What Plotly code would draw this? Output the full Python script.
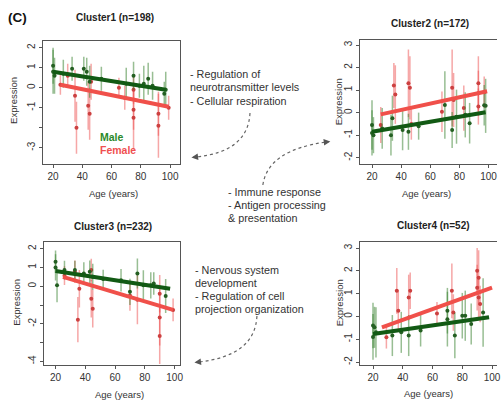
import plotly.graph_objects as go

W, H = 501, 405

# ---------------- data ----------------
c1_male_age = [20, 20, 21, 27, 33, 41, 43, 45, 53, 70, 75, 79, 82, 85, 88, 96, 97]
c1_male_mean = [1.1, 0.8, 0.6, 0.7, 0.95, 0.95, 0.8, 0.3, 0.45, 0.2, 0.6, 0.1, 0.2, 0.45, 0.1, -0.3, -0.1]
c1_male_sd = [0.9, 1.1, 0.9, 0.7, 0.6, 0.6, 0.7, 0.8, 0.6, 0.8, 0.7, 0.6, 0.9, 0.8, 0.7, 0.6, 0.9]
c1_female_age = [25, 30, 35, 36, 44, 45, 46, 65, 69, 75, 75, 75, 92, 92, 99]
c1_female_mean = [0.15, 0.6, -0.4, -2.0, -0.9, -1.3, 0.3, 0.0, -0.5, -1.1, -1.5, -0.1, -1.3, -1.9, -1.0]
c1_female_sd = [0.5, 0.6, 1.3, 1.3, 1.2, 1.3, 0.9, 0.5, 0.6, 1.0, 1.6, 0.7, 1.1, 1.6, 0.6]
c1_male_fit_age, c1_male_fit = [20, 97], [0.8, -0.1]
c1_female_fit_age, c1_female_fit = [25, 99], [0.15, -0.95]

c2_male_age = [20, 20, 21, 27, 33, 34, 41, 45, 52, 70, 75, 78, 84, 87, 97, 98]
c2_male_mean = [-0.55, -0.9, -1.0, -0.7, -1.0, -0.25, -0.77, -0.85, -0.6, 0.34, -0.77, -0.18, -0.1, -0.47, 0.33, 0.3]
c2_male_sd = [1.1, 1.0, 0.8, 0.9, 0.9, 1.0, 0.9, 0.8, 0.6, 1.5, 0.8, 1.2, 1.0, 0.9, 0.9, 1.2]
c2_female_age = [26, 35, 36, 45, 46, 47, 68, 75, 76, 83, 93, 93, 93, 97]
c2_female_mean = [-0.55, 1.2, 0.8, 1.3, 1.1, -0.5, 0.04, 1.1, 0.56, 0.2, 1.3, 0.86, 0.27, 0.9]
c2_female_sd = [0.8, 1.0, 1.3, 1.5, 1.4, 0.7, 0.9, 1.7, 1.2, 1.0, 1.2, 1.0, 0.8, 0.7]
c2_male_fit_age, c2_male_fit = [20, 98], [-0.85, 0.02]
c2_female_fit_age, c2_female_fit = [26, 99], [-0.08, 0.95]

c3_male_age = [20, 20, 21, 26, 33, 39, 43, 45, 52, 64, 70, 75, 79, 84, 86, 94]
c3_male_mean = [1.3, 1.0, 0.05, 0.86, 0.86, 0.68, 0.77, 0.5, 0.38, 0.32, -0.3, 0.68, 0.05, 0.05, 0.14, -0.52]
c3_male_sd = [0.6, 0.7, 0.9, 0.5, 0.5, 0.6, 0.6, 0.7, 0.5, 0.6, 0.7, 0.8, 0.8, 0.7, 0.6, 0.9]
c3_female_age = [26, 33, 36, 35, 44, 45, 44, 70, 75, 90, 90, 90, 99]
c3_female_mean = [0.56, 0.77, -0.13, -1.78, -0.67, -1.2, 0.86, -0.5, -0.72, -0.4, -1.66, -2.65, -1.26]
c3_female_sd = [0.5, 0.6, 1.0, 1.2, 1.0, 1.0, 0.6, 0.8, 1.3, 1.0, 1.5, 1.5, 0.6]
c3_male_fit_age, c3_male_fit = [20, 97], [0.81, -0.13]
c3_female_fit_age, c3_female_fit = [25, 99], [0.5, -1.26]

c4_male_age = [20, 20, 21, 22, 33, 39, 44, 52, 70, 70, 75, 80, 82, 86, 94]
c4_male_mean = [-0.4, -0.9, -0.48, -0.7, -0.84, -0.7, -0.84, -0.62, 0.25, -0.12, -0.84, 0.03, 0.03, -0.33, 0.17]
c4_male_sd = [1.0, 1.0, 0.9, 1.1, 0.9, 0.9, 0.9, 0.7, 1.0, 1.2, 1.0, 1.0, 1.1, 0.9, 1.5]
c4_female_age = [29, 36, 37, 44, 45, 63, 73, 74, 90, 91, 90, 91, 92]
c4_female_mean = [-0.91, 1.12, 0.25, 0.83, 1.12, 0.13, 1.12, 0.17, 2.0, 1.7, 1.26, 0.83, 0.54]
c4_female_sd = [0.5, 1.0, 0.9, 1.0, 0.8, 0.5, 1.2, 0.8, 1.0, 1.2, 1.0, 0.9, 0.8]
c4_male_fit_age, c4_male_fit = [20, 98], [-0.77, -0.04]
c4_female_fit_age, c4_female_fit = [26, 100], [-0.48, 1.26]

titles = ["Cluster1 (n=198)", "Cluster2 (n=172)", "Cluster3 (n=232)", "Cluster4 (n=52)"]
x_ticks = [20, 40, 60, 80, 100]
y_ticks = [
    ([-3, -2, -1, 0, 1, 2], ["-3", "", "-1", "0", "1", "2"]),
    ([-2, -1, 0, 1, 2, 3], ["-2", "-1", "0", "1", "2", "3"]),
    ([-4, -3, -2, -1, 0, 1, 2], ["-4", "", "-2", "", "0", "1", "2"]),
    ([-2, -1, 0, 1, 2, 3], ["-2", "-1", "0", "1", "2", "3"]),
]
terms = [
    ["- Regulation of", "neurotransmitter levels", "- Cellular respiration"],
    ["- Immune response", "- Antigen processing", "& presentation"],
    ["- Nervous system", "development", "- Regulation of cell", "projection organization"],
]

clusters = [
    (c1_male_age, c1_male_mean, c1_male_sd, c1_female_age, c1_female_mean, c1_female_sd,
     c1_male_fit_age, c1_male_fit, c1_female_fit_age, c1_female_fit),
    (c2_male_age, c2_male_mean, c2_male_sd, c2_female_age, c2_female_mean, c2_female_sd,
     c2_male_fit_age, c2_male_fit, c2_female_fit_age, c2_female_fit),
    (c3_male_age, c3_male_mean, c3_male_sd, c3_female_age, c3_female_mean, c3_female_sd,
     c3_male_fit_age, c3_male_fit, c3_female_fit_age, c3_female_fit),
    (c4_male_age, c4_male_mean, c4_male_sd, c4_female_age, c4_female_mean, c4_female_sd,
     c4_male_fit_age, c4_male_fit, c4_female_fit_age, c4_female_fit),
]

# ---------------- layout geometry (pixels) ----------------
panels = [
    dict(frame=(43, 181, 41, 164), xa=(53.5, 171.5), ya=((2, 47.7), (-3, 147.7)),
         title=(116, 18), ylab=(13, 100), xlab=(114, 193), mirror_y=True),
    dict(frame=(363, 501, 40, 164), xa=(375, 492.5), ya=((3, 45), (-2, 157.7)),
         title=(433, 24), ylab=(342, 102), xlab=(430, 193), mirror_y=False),
    dict(frame=(44, 181, 242, 365), xa=(56, 176), ya=((2, 248.7), (-4, 361.3)),
         title=(114, 227), ylab=(16, 302), xlab=(120, 394), mirror_y=True),
    dict(frame=(363, 501, 242, 365), xa=(376, 496), ya=((3, 248), (-2, 362)),
         title=(437, 225), ylab=(342, 303), xlab=(432, 393), mirror_y=False),
]

FONT = "Liberation Sans, Arial, sans-serif"
MALE_BAR = "rgba(50,125,40,0.5)"
FEMALE_BAR = "rgba(238,80,80,0.5)"
MALE_PT = "#245f22"
FEMALE_PT = "#cc4040"
MALE_LINE = "#125a14"
FEMALE_LINE = "#f0504a"


def px(x):
    return x / W


def py(y):
    return 1 - y / H


fig = go.Figure()
layout = dict(width=W, height=H, margin=dict(l=0, r=0, t=0, b=0),
              paper_bgcolor="white", plot_bgcolor="white", showlegend=False,
              font=dict(family=FONT, color="#333"))
annotations = []
shapes = []

for i, (p, data) in enumerate(zip(panels, clusters)):
    (ma, mm, ms, fa, fm, fs, mfa, mf, ffa, ff) = data
    k = "" if i == 0 else str(i + 1)
    L, R, T, B = p["frame"]
    x20, x100 = p["xa"]
    sx = (x100 - x20) / 80.0
    xr = [20 + (L - x20) / sx, 20 + (R - x20) / sx]
    (v1, p1), (v2, p2) = p["ya"]
    sy = (p2 - p1) / (v1 - v2)
    yr = [v1 - (B - p1) / sy, v1 + (p1 - T) / sy]

    common = dict(showline=True, linecolor="#555", linewidth=1, ticks="outside",
                  ticklen=3, tickwidth=1, tickcolor="#555", showgrid=False,
                  zeroline=False, tickfont=dict(size=10, family=FONT, color="#333"))
    layout["xaxis" + k] = dict(domain=[px(L), px(R)], range=xr, anchor="y" + k,
                               tickvals=x_ticks, mirror=True, **common)
    tv, tt = y_ticks[i]
    layout["yaxis" + k] = dict(domain=[py(B), py(T)], range=yr, anchor="x" + k,
                               tickvals=tv, ticktext=tt, tickangle=-90,
                               mirror=p["mirror_y"], **common)
    xa_, ya_ = "x" + k, "y" + k

    fig.add_trace(go.Scatter(x=fa, y=fm, mode="markers", xaxis=xa_, yaxis=ya_,
                             marker=dict(size=4, color=FEMALE_PT),
                             error_y=dict(type="data", array=fs, width=0,
                                          thickness=1.5, color=FEMALE_BAR)))
    fig.add_trace(go.Scatter(x=ma, y=mm, mode="markers", xaxis=xa_, yaxis=ya_,
                             marker=dict(size=4, color=MALE_PT),
                             error_y=dict(type="data", array=ms, width=0,
                                          thickness=1.5, color=MALE_BAR)))
    fig.add_trace(go.Scatter(x=ffa, y=ff, mode="lines", xaxis=xa_, yaxis=ya_,
                             line=dict(color=FEMALE_LINE, width=4)))
    fig.add_trace(go.Scatter(x=mfa, y=mf, mode="lines", xaxis=xa_, yaxis=ya_,
                             line=dict(color=MALE_LINE, width=4)))

    tx, ty = p["title"]
    annotations.append(dict(x=px(tx), y=py(ty), xref="paper", yref="paper",
                            text="<b>" + titles[i] + "</b>", showarrow=False,
                            font=dict(size=10, color="#222"), xanchor="center", yanchor="middle"))
    lx, ly = p["ylab"]
    annotations.append(dict(x=px(lx), y=py(ly), xref="paper", yref="paper",
                            text="Expression", textangle=-90, showarrow=False,
                            font=dict(size=9.5, color="#333"), xanchor="center", yanchor="middle"))
    ax_, ay_ = p["xlab"]
    annotations.append(dict(x=px(ax_), y=py(ay_), xref="paper", yref="paper",
                            text="Age (years)", showarrow=False,
                            font=dict(size=9.5, color="#333"), xanchor="center", yanchor="middle"))

annotations.append(dict(x=px(6), y=py(18), xref="paper", yref="paper", text="<b>(C)</b>",
                        showarrow=False, xanchor="left", yanchor="middle",
                        font=dict(size=13.5, color="#111")))
annotations.append(dict(x=px(99), y=py(137), xref="paper", yref="paper", text="<b>Male</b>",
                        showarrow=False, xanchor="left", yanchor="middle",
                        font=dict(size=10.5, color="#2a8a2a")))
annotations.append(dict(x=px(99), y=py(150), xref="paper", yref="paper", text="<b>Female</b>",
                        showarrow=False, xanchor="left", yanchor="middle",
                        font=dict(size=10.5, color="#f05050")))

term_pos = [(190, 74, 13.5), (228, 192, 13), (195, 270, 13)]
for lines, (tx, ty, dy) in zip(terms, term_pos):
    for j, line in enumerate(lines):
        annotations.append(dict(x=px(tx), y=py(ty + j * dy), xref="paper", yref="paper",
                                text=line, showarrow=False, xanchor="left", yanchor="middle",
                                font=dict(size=10.8, color="#333")))

curves = [
    ((252, 113), (250, 152), (197, 157)),
    ((265, 185), (270, 150), (329, 142)),
    ((259, 316), (257, 356), (200, 362)),
]
for (x0, y0), (cx, cy), (x1, y1) in curves:
    shapes.append(dict(type="path", xref="paper", yref="paper",
                       path=f"M {px(x0)},{py(y0)} Q {px(cx)},{py(cy)} {px(x1)},{py(y1)}",
                       line=dict(color="#666", width=1.2, dash="dot")))
heads = [((193, 157.5), 8, -1), ((333, 141.5), -8, 1), ((196, 362.5), 8, -1)]
for (hx, hy), dx, dy in heads:
    annotations.append(dict(x=px(hx), y=py(hy), xref="paper", yref="paper", text="",
                            showarrow=True, ax=dx, ay=dy, arrowhead=2, arrowsize=1.1,
                            arrowwidth=1.2, arrowcolor="#555"))

layout["annotations"] = annotations
layout["shapes"] = shapes
fig.update_layout(**layout)

fig.write_html("out.html", post_script="document.body.style.margin='0';",
               config={"displayModeBar": False})
